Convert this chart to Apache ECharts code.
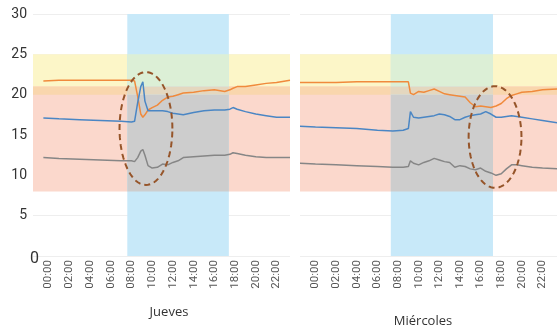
<!DOCTYPE html>
<html>
<head>
<meta charset="utf-8">
<script src="https://cdn.jsdelivr.net/npm/echarts@6/dist/echarts.min.js"></script>
<style>html,body{margin:0;padding:0;background:#fff}#c{width:557px;height:329px}</style>
</head>
<body>
<div id="c"></div>
<script>
// ---- data ----
const panelNames = ['Jueves', 'Miércoles'];
const xTickHours = [0, 2, 4, 6, 8, 10, 12, 14, 16, 18, 20, 22];
const xTickLabels = ['00:00','02:00','04:00','06:00','08:00','10:00','12:00','14:00','16:00','18:00','20:00','22:00'];
const yTicks = [0, 5, 10, 15, 20, 25, 30];

const juevesHours  = [-0.5, 1, 3, 5, 7, 8, 8.3, 8.6, 8.9, 9.1, 9.3, 9.6, 10, 10.5, 11, 11.5, 12, 12.5, 13, 14, 15, 16, 17, 17.5, 17.8, 18.2, 19, 20, 21, 22, 23.3];
const juevesOrange = [21.7, 21.8, 21.8, 21.8, 21.8, 21.8, 21.7, 19.8, 17.6, 17.2, 17.5, 18.1, 18.4, 18.7, 19.3, 19.7, 19.8, 20.0, 20.2, 20.3, 20.5, 20.6, 20.4, 20.6, 20.8, 21.0, 21.0, 21.2, 21.4, 21.5, 21.8];
const juevesBlue   = [17.1, 17.0, 16.9, 16.8, 16.7, 16.6, 16.7, 19.0, 21.0, 21.6, 19.2, 18.0, 18.0, 18.0, 18.0, 17.9, 17.7, 17.6, 17.5, 17.8, 18.0, 18.1, 18.1, 18.2, 18.4, 18.2, 17.9, 17.6, 17.4, 17.2, 17.2];
const juevesGray   = [12.2, 12.1, 12.0, 11.9, 11.8, 11.8, 11.7, 12.2, 13.0, 13.2, 12.5, 11.2, 10.9, 11.0, 11.4, 11.3, 11.6, 11.8, 12.2, 12.3, 12.4, 12.5, 12.5, 12.6, 12.8, 12.7, 12.5, 12.3, 12.2, 12.2, 12.2];

const miercolesHours  = [-1.5, 0, 2, 4, 6, 7.5, 8.5, 9.0, 9.2, 9.5, 10, 10.5, 11, 11.5, 12, 12.5, 13, 13.5, 14, 14.5, 15, 15.5, 16, 16.5, 17, 17.5, 18, 18.5, 19, 19.5, 20, 21, 22, 23.5];
const miercolesOrange = [21.5, 21.5, 21.5, 21.6, 21.6, 21.6, 21.6, 21.6, 20.2, 20.0, 20.4, 20.3, 20.5, 20.7, 20.4, 20.1, 20.0, 19.9, 19.8, 19.7, 19.0, 18.5, 18.6, 18.5, 18.4, 18.6, 18.9, 19.5, 19.9, 20.1, 20.3, 20.4, 20.6, 20.7];
const miercolesBlue   = [16.1, 16.0, 15.9, 15.8, 15.6, 15.5, 15.6, 15.8, 17.9, 17.2, 17.1, 17.2, 17.3, 17.4, 17.6, 17.5, 17.3, 16.9, 16.9, 17.2, 17.4, 17.5, 17.6, 17.9, 17.6, 17.2, 17.2, 17.3, 17.4, 17.3, 17.2, 17.0, 16.8, 16.5];
const miercolesGray   = [11.5, 11.4, 11.3, 11.2, 11.1, 11.0, 11.0, 11.1, 11.8, 11.5, 11.3, 11.6, 11.8, 12.1, 11.9, 11.7, 11.6, 11.0, 11.2, 11.1, 10.8, 10.7, 10.9, 10.5, 10.3, 10.0, 10.2, 10.8, 11.3, 11.3, 11.2, 11.0, 10.9, 10.8];

const yellowBand = [20, 25];
const redBand = [8, 21];
const juevesWorkHours = [7.6, 17.4];
const miercolesWorkHours = [7.3, 17.2];
// ellipse annotations: [centre hour, centre value, radius in hours, radius in value]
const juevesEllipse = [9.4, 15.8, 2.55, 7.0];
const miercolesEllipse = [17.4, 14.75, 2.56, 6.3];

// ---- chart ----
const C = {
  yellow: '#fcf6c8', red: '#fbd8cc', strip: '#f9d6ad',
  blue: '#c8e9f9', blueYellow: '#dcefd6', blueStrip: '#e4d7bf', blueRed: '#cdcdcd',
  orange: '#f08a3c', lineBlue: '#4a86c4', gray: '#868686', ellipse: '#96552a'
};
function pairs(h, v) { return h.map((x, i) => [x, v[i]]); }
function bandAreas(work) {
  const [a, b] = work;
  const stripLo = Math.max(yellowBand[0], redBand[0]), stripHi = Math.min(yellowBand[1], redBand[1]);
  const it = c => ({ itemStyle: { color: c, opacity: 1 } });
  return [
    [{ yAxis: yellowBand[0], ...it(C.yellow) }, { yAxis: yellowBand[1] }],
    [{ yAxis: redBand[0], ...it(C.red) }, { yAxis: redBand[1] }],
    [{ yAxis: stripLo, ...it(C.strip) }, { yAxis: stripHi }],
    [{ xAxis: a, ...it(C.blue) }, { xAxis: b }],
    [{ xAxis: a, yAxis: stripHi, ...it(C.blueYellow) }, { xAxis: b, yAxis: yellowBand[1] }],
    [{ xAxis: a, yAxis: stripLo, ...it(C.blueStrip) }, { xAxis: b, yAxis: stripHi }],
    [{ xAxis: a, yAxis: redBand[0], ...it(C.blueRed) }, { xAxis: b, yAxis: stripLo }]
  ];
}
function ellipseSeries(idx, e) {
  return {
    type: 'custom', xAxisIndex: idx, yAxisIndex: idx, z: 5, silent: true,
    data: [e], encode: { x: 0, y: 1 }, clip: false,
    renderItem: (params, api) => {
      const cx = api.value(0), cy = api.value(1), rx = api.value(2), ry = api.value(3);
      const pts = [];
      for (let i = 0; i <= 80; i++) {
        const t = i / 80 * Math.PI * 2;
        pts.push(api.coord([cx + rx * Math.cos(t), cy + ry * Math.sin(t)]));
      }
      return { type: 'polyline', shape: { points: pts },
        style: { fill: null, stroke: C.ellipse, lineWidth: 2, lineDash: [6, 4] } };
    }
  };
}
function lineSeries(idx, h, v, color) {
  return { type: 'line', xAxisIndex: idx, yAxisIndex: idx, z: 3, data: pairs(h, v),
    showSymbol: false, symbol: 'none', silent: true,
    lineStyle: { color, width: 1.5 } };
}
function xAxisCfg(idx, min, max) {
  return {
    type: 'value', gridIndex: idx, min, max,
    axisLine: { show: false }, axisTick: { show: false }, splitLine: { show: false },
    axisLabel: { customValues: xTickHours, rotate: 90, margin: 4, fontSize: 11.5, color: '#555',
      fontFamily: 'Roboto', formatter: v => xTickLabels[xTickHours.indexOf(v)] }
  };
}
function yAxisCfg(idx, showLabels) {
  return {
    type: 'value', gridIndex: idx, min: 0, max: 30, interval: 5, position: 'left',
    axisLine: { show: false }, axisTick: { show: false },
    splitLine: { show: true, lineStyle: { color: '#eeeeee', width: 1 } },
    axisLabel: { show: showLabels, margin: 6, fontSize: 14, color: '#333', fontFamily: 'Roboto',
      formatter: v => v === 0 ? '' : String(v) }
  };
}
const titleStyle = { fontSize: 13, fill: '#333', fontFamily: 'Open Sans', align: 'center', verticalAlign: 'middle' };

const chart = echarts.init(document.getElementById('c'), null, { renderer: 'canvas' });
chart.setOption({
  animation: false,
  backgroundColor: '#fff',
  grid: [
    { left: 33, top: 14, width: 257, bottom: 73, outerBoundsMode: 'none', containLabel: false },
    { left: 300, top: 14, width: 258, bottom: 73, outerBoundsMode: 'none', containLabel: false }
  ],
  xAxis: [
    xAxisCfg(0, -1.5, 23.3),
    xAxisCfg(1, -1.5, 23.5)
  ],
  yAxis: [
    yAxisCfg(0, true),
    yAxisCfg(1, false),
    { type: 'value', gridIndex: 0, min: 0, max: 30, interval: 30, position: 'left',
      axisLine: { show: false }, axisTick: { show: false }, splitLine: { show: false },
      axisLabel: { margin: -6, fontSize: 16, color: '#333', fontFamily: 'Roboto',
        verticalAlign: 'top', lineHeight: 6,
        formatter: v => v === yTicks[0] ? String(v) : '' } }
  ],
  graphic: [
    { type: 'text', x: 169, y: 312, silent: true, style: Object.assign({ text: panelNames[0] }, titleStyle) },
    { type: 'text', x: 423, y: 321, silent: true, style: Object.assign({ text: panelNames[1] }, titleStyle) }
  ],
  series: [
    { type: 'line', xAxisIndex: 0, yAxisIndex: 0, z: 1, data: [], silent: true,
      markArea: { silent: true, data: bandAreas(juevesWorkHours) } },
    { type: 'line', xAxisIndex: 1, yAxisIndex: 1, z: 1, data: [], silent: true,
      markArea: { silent: true, data: bandAreas(miercolesWorkHours) } },
    lineSeries(0, juevesHours, juevesOrange, C.orange),
    lineSeries(0, juevesHours, juevesBlue, C.lineBlue),
    lineSeries(0, juevesHours, juevesGray, C.gray),
    lineSeries(1, miercolesHours, miercolesOrange, C.orange),
    lineSeries(1, miercolesHours, miercolesBlue, C.lineBlue),
    lineSeries(1, miercolesHours, miercolesGray, C.gray),
    ellipseSeries(0, juevesEllipse),
    ellipseSeries(1, miercolesEllipse)
  ]
});
</script>
</body>
</html>
